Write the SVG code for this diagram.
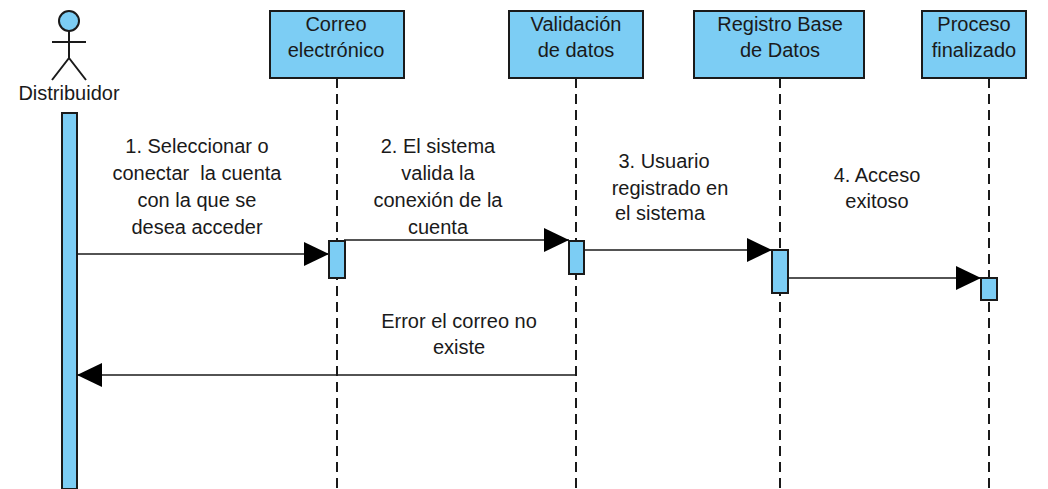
<svg xmlns="http://www.w3.org/2000/svg" width="1048" height="489" viewBox="0 0 1048 489">
<style>
text{font-family:"Liberation Sans",Arial,sans-serif;font-size:20px;fill:#1a1a1a;text-anchor:middle}
.b{fill:#7ccdf4;stroke:#1a1a1a;stroke-width:2}
.l{stroke:#1a1a1a;stroke-width:2;fill:none}
.d{stroke:#1a1a1a;stroke-width:2;fill:none;stroke-dasharray:10 6}
.m{stroke:#1a1a1a;stroke-width:1.5;fill:none}
</style>
<defs><marker id="a" markerUnits="userSpaceOnUse" markerWidth="26" markerHeight="26" refX="25" refY="13" orient="auto"><path d="M0 1L25 13L0 25Z" fill="#000"/></marker></defs>
<g id="actor"><circle class="b" cx="69" cy="21" r="10"/><path class="l" d="M69 31V58M52 42H86M69 58L52 80M69 58L86 80"/><text x="69" y="100">Distribuidor</text><rect class="b" x="62" y="113" width="15" height="376"/></g>
<g id="connectors">
<path class="d" d="M337 78V489M576 78V489M780 78V489M989 78V489"/>
<path class="m" d="M77 254H329" marker-end="url(#a)"/>
<path class="m" d="M344 240H569" marker-end="url(#a)"/>
<path class="m" d="M584 250H772" marker-end="url(#a)"/>
<path class="m" d="M788 278H981" marker-end="url(#a)"/>
<path class="m" d="M576 375H77" marker-end="url(#a)"/>
<path class="m" d="M329 264H345"/>
</g>
<g id="n1"><rect class="b" x="270" y="11" width="134" height="67"/><text x="336" y="31">Correo</text><text x="336" y="57">electrónico</text><rect class="b" x="329" y="241" width="16" height="37"/></g>
<g id="n2"><rect class="b" x="509" y="11" width="134" height="67"/><text x="576" y="31">Validación</text><text x="576" y="57">de datos</text><rect class="b" x="569" y="241" width="15" height="33"/></g>
<g id="n3"><rect class="b" x="694" y="11" width="170" height="67"/><text x="780" y="31">Registro Base</text><text x="780" y="57">de Datos</text><rect class="b" x="772" y="250" width="16" height="43"/></g>
<g id="n4"><rect class="b" x="922" y="11" width="104" height="67"/><text x="974" y="31">Proceso</text><text x="974" y="57">finalizado</text><rect class="b" x="981" y="278" width="16" height="22"/></g>
<g id="labels">
<text x="197" y="153">1. Seleccionar o</text><text x="197" y="180" xml:space="preserve">conectar  la cuenta</text><text x="197" y="207">con la que se</text><text x="197" y="234">desea acceder</text>
<text x="438" y="153">2. El sistema</text><text x="438" y="180">valida la</text><text x="438" y="207">conexión de la</text><text x="438" y="234">cuenta</text>
<text x="664" y="168">3. Usuario</text><text x="670" y="195">registrado en</text><text x="660" y="220">el sistema</text>
<text x="877" y="182">4. Acceso</text><text x="877" y="208">exitoso</text>
<text x="459" y="328">Error el correo no</text><text x="459" y="354">existe</text>
</g>
</svg>
